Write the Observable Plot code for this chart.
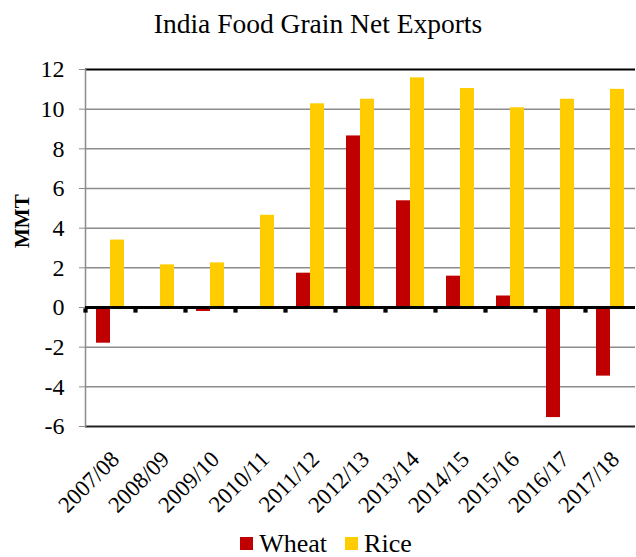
<!DOCTYPE html>
<html><head><meta charset="utf-8">
<script src="https://cdn.jsdelivr.net/npm/d3@7"></script>
<script src="https://cdn.jsdelivr.net/npm/@observablehq/plot@0.6"></script>
<style>
html,body{margin:0;padding:0;background:#fff;}
body{width:636px;height:557px;overflow:hidden;font-family:"Liberation Serif","Times New Roman",serif;color:#000;}
#title{box-sizing:border-box;height:44px;padding-top:10px;font-size:27.5px;line-height:27px;text-align:center;white-space:nowrap;}
#chart svg{display:block;}
#legend{box-sizing:border-box;height:37px;padding-top:11px;padding-left:16px;font-size:26px;line-height:26px;text-align:center;white-space:nowrap;}
.sw{display:inline-block;width:13px;height:13px;vertical-align:2px;margin-right:6px;}
.item{margin:0 9px;}
</style>
</head><body>
<div id="title">India Food Grain Net Exports</div>
<div id="chart"></div>
<div id="legend"></div>
<script>
const years = ["2007/08","2008/09","2009/10","2010/11","2011/12","2012/13","2013/14","2014/15","2015/16","2016/17","2017/18"];
const wheat = [-1.8, 0, -0.2, -0.05, 1.73, 8.65, 5.38, 1.58, 0.58, -5.55, -3.46];
const rice = [3.4, 2.15, 2.25, 4.65, 10.27, 10.5, 11.58, 11.04, 10.07, 10.5, 11.0];
const series = ["Wheat","Rice"];
const colors = ["#C00000","#FFCC00"];
const yTicks = [-6,-4,-2,0,2,4,6,8,10,12];
const gridTicks = [-4,-2,2,4,6,8,10];
const yLabel = "MMT";

const data = years.flatMap((y,i)=>[
  {year:y, crop:"Wheat", value:wheat[i]},
  {year:y, crop:"Rice", value:rice[i]}
]);

const chart = Plot.plot({
  width:636, height:476,
  marginTop:25, marginBottom:94, marginLeft:84, marginRight:0,
  style:{fontFamily:"'Liberation Serif','Times New Roman',serif", background:"white", color:"black", overflow:"visible"},
  fx:{domain:years, padding:0, label:null, axis:null},
  x:{domain:series, paddingInner:0, paddingOuter:0.73, axis:null},
  y:{domain:[-6,12], axis:null},
  color:{domain:series, range:colors},
  marks:[
    Plot.ruleY(gridTicks, {stroke:"#8c8c8c", strokeWidth:1.5}),
    Plot.ruleY([12], {stroke:"#000", strokeWidth:2}),
    Plot.ruleY([-6], {stroke:"#222", strokeWidth:2}),
    Plot.frame({anchor:"left", facetAnchor:"left", stroke:"#8c8c8c", strokeWidth:1.5}),
    Plot.barY(data, {fx:"year", x:"crop", y:"value", fill:"crop"}),
    Plot.ruleY([0], {stroke:"#000", strokeWidth:3}),
    Plot.dot([0], {y:d=>d, frameAnchor:"left", symbol:"square", r:2.4, fill:"#000", stroke:null, dy:3}),
    Plot.axisY({ticks:yTicks, tickSize:6, tickPadding:15, stroke:"#8c8c8c", fontSize:24, label:null, tickFormat:d=>String(d)}),
    Plot.text([yLabel], {text:d=>d, frameAnchor:"left", facetAnchor:"left", rotate:-90, dx:-63, fontSize:21, fontWeight:"bold"}),
    Plot.axisFx({domain:years, anchor:"bottom", tickRotate:-45, fontSize:23, tickSize:0, tickPadding:18, dx:5, dy:11, label:null})
  ]
});
document.getElementById("chart").appendChild(chart);

const legend = document.getElementById("legend");
series.forEach((s,i)=>{
  const span = document.createElement("span");
  span.className = "item";
  span.innerHTML = `<span class="sw" style="background:${colors[i]}"></span>${s}`;
  legend.appendChild(span);
});
</script>
</body></html>
